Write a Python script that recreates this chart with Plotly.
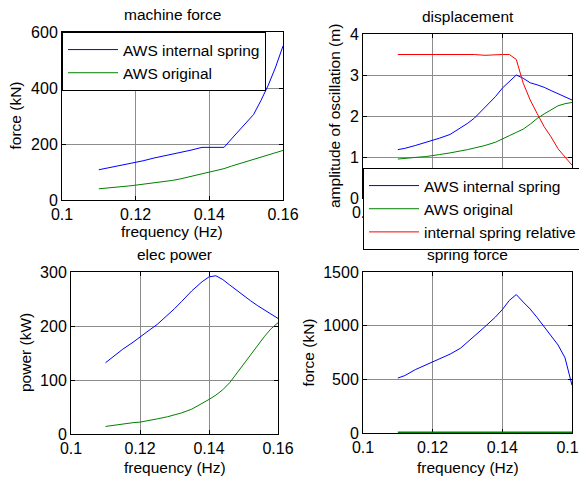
import plotly.graph_objects as go

freq = [0.110, 0.112, 0.115, 0.118, 0.120, 0.122, 0.125, 0.128, 0.130, 0.132, 0.135,
        0.138, 0.140, 0.142, 0.144, 0.146, 0.148, 0.150, 0.152, 0.154, 0.156, 0.158, 0.160]

machine_spring = [108, 113, 120, 129, 135, 140, 150, 158, 164, 171, 178,
                  188, 188, 188, 188, 218, 248, 275, 305, 355, 410, 475, 550]
machine_orig = [40, 42, 46, 50, 53, 56, 61, 66, 70, 75, 84,
                92, 100, 106, 112, 121, 129, 138, 146, 154, 162, 170, 177]

disp_spring = [1.18, 1.21, 1.28, 1.35, 1.41, 1.46, 1.55, 1.70, 1.82, 1.95, 2.21,
               2.47, 2.68, 2.84, 3.00, 2.92, 2.81, 2.76, 2.70, 2.62, 2.54, 2.46, 2.39]
disp_orig = [0.95, 0.97, 0.99, 1.01, 1.03, 1.06, 1.10, 1.14, 1.18, 1.22, 1.28,
             1.36, 1.45, 1.52, 1.60, 1.68, 1.80, 1.94, 2.05, 2.16, 2.25, 2.30, 2.33]
disp_relative = [3.50, 3.50, 3.50, 3.50, 3.50, 3.50, 3.50, 3.50, 3.50, 3.50, 3.48,
                 3.50, 3.50, 3.50, 3.38, 2.80, 2.39, 2.06, 1.74, 1.49, 1.20, 1.00, 0.80]

power_spring = [132, 142, 157, 170, 180, 189, 203, 220, 232, 245, 265,
                282, 291, 293, 286, 276, 266, 256, 247, 238, 230, 222, 214]
power_orig = [14, 16, 18, 21, 22, 24, 28, 32, 35, 39, 46,
              56, 64, 72, 82, 95, 112, 130, 148, 165, 180, 195, 206]

springf_spring = [512, 535, 590, 635, 667, 690, 735, 790, 845, 900, 990,
                  1080, 1150, 1235, 1290, 1220, 1155, 1075, 990, 910, 820, 700, 445]
springf_orig = [0] * len(freq)

x_ticks = [0.1, 0.12, 0.14, 0.16]
x_ticklabels = ["0.1", "0.12", "0.14", "0.16"]

titles = ["machine force", "displacement", "elec power", "spring force"]
ylabels = ["force (kN)", "amplitude of oscillation (m)", "power (kW)", "force (kN)"]
xlabel = "frequency (Hz)"

OFF = 8                      # page body margin
W, H = 587 - OFF, 479 - OFF  # figure size
BLUE, GREEN, RED = "rgb(0,0,255)", "rgb(0,128,0)", "rgb(255,0,0)"
FONT = "Liberation Sans, Arial, sans-serif"
FS = 15.5
FS_TICK = 16

def px(x):
    return (x - OFF) / W

def py(y):
    return 1 - (y - OFF) / H

# plot boxes in window pixels: (left, right, top, bottom)
boxes = [(62, 283, 32, 200), (363, 572, 34, 198), (71, 278, 272, 434), (363, 572, 272, 433)]

fig = go.Figure()

fig.add_trace(go.Scatter(x=freq, y=machine_spring, mode="lines", line=dict(color=BLUE, width=1),
                         name="AWS internal spring", xaxis="x", yaxis="y", legend="legend"))
fig.add_trace(go.Scatter(x=freq, y=machine_orig, mode="lines", line=dict(color=GREEN, width=1),
                         name="AWS original", xaxis="x", yaxis="y", legend="legend"))

fig.add_trace(go.Scatter(x=freq, y=disp_spring, mode="lines", line=dict(color=BLUE, width=1),
                         name="AWS internal spring", xaxis="x2", yaxis="y2", legend="legend2"))
fig.add_trace(go.Scatter(x=freq, y=disp_orig, mode="lines", line=dict(color=GREEN, width=1),
                         name="AWS original", xaxis="x2", yaxis="y2", legend="legend2"))
fig.add_trace(go.Scatter(x=freq, y=disp_relative, mode="lines", line=dict(color=RED, width=1),
                         name="internal spring relative", xaxis="x2", yaxis="y2", legend="legend2"))

fig.add_trace(go.Scatter(x=freq, y=power_spring, mode="lines", line=dict(color=BLUE, width=1),
                         showlegend=False, xaxis="x3", yaxis="y3"))
fig.add_trace(go.Scatter(x=freq, y=power_orig, mode="lines", line=dict(color=GREEN, width=1),
                         showlegend=False, xaxis="x3", yaxis="y3"))

fig.add_trace(go.Scatter(x=freq, y=springf_spring, mode="lines", line=dict(color=BLUE, width=1),
                         showlegend=False, xaxis="x4", yaxis="y4"))
fig.add_trace(go.Scatter(x=freq, y=springf_orig, mode="lines", line=dict(color=GREEN, width=3),
                         showlegend=False, xaxis="x4", yaxis="y4"))

yranges = [[0, 600], [0, 4], [0, 300], [0, 1500]]
ydticks = [200, 1, 100, 500]

axis_common = dict(showline=True, linecolor="black", linewidth=1, mirror="ticks",
                   ticks="inside", ticklen=4, tickcolor="black", automargin=False,
                   ticklabeloverflow="allow",
                   showgrid=True, gridcolor="#8c8c8c", gridwidth=1, zeroline=False,
                   tickfont=dict(family=FONT, size=FS_TICK, color="black"))

layout = dict(width=W, height=H, margin=dict(l=0, r=0, t=0, b=0, autoexpand=False),
              paper_bgcolor="white", plot_bgcolor="white",
              font=dict(family=FONT, size=FS, color="black"))

title_y = [15, 17, 254, 254]
ylab_x = [15.5, 335, 25, 308]
xlab_y = [231, None, 467, 467]   # x title of the displacement panel lies under its legend

annotations = []
for i, (l, r, t, b) in enumerate(boxes):
    sfx = "" if i == 0 else str(i + 1)
    layout["xaxis" + sfx] = dict(axis_common, domain=[px(l), px(r)], range=[0.1, 0.16],
                                 tickvals=x_ticks, ticktext=x_ticklabels, anchor="y" + sfx,
                                 layer="below traces" if i == 3 else "above traces")
    layout["yaxis" + sfx] = dict(axis_common, domain=[py(b), py(t)], range=yranges[i],
                                 dtick=ydticks[i], tick0=0, anchor="x" + sfx)
    cx = (l + r) / 2
    annotations.append(dict(text=titles[i], x=px(cx), y=py(title_y[i]), xref="paper", yref="paper",
                            showarrow=False, xanchor="center", yanchor="middle",
                            font=dict(family=FONT, size=FS)))
    annotations.append(dict(text=ylabels[i], x=px(ylab_x[i]), y=py((t + b) / 2), xref="paper",
                            yref="paper", showarrow=False, textangle=-90, xanchor="center",
                            yanchor="middle", font=dict(family=FONT, size=FS)))
    if xlab_y[i] is not None:
        annotations.append(dict(text=xlabel, x=px(cx), y=py(xlab_y[i]), xref="paper",
                                yref="paper", showarrow=False, xanchor="center",
                                yanchor="middle", font=dict(family=FONT, size=FS)))

layout["annotations"] = annotations
layout["legend"] = dict(x=px(62), y=py(32), xanchor="left", yanchor="top",
                        bgcolor="white", bordercolor="black", borderwidth=1, itemwidth=50,
                        font=dict(family=FONT, size=FS), tracegroupgap=0)
layout["legend2"] = dict(x=px(363), y=py(168), xanchor="left", yanchor="top",
                         bgcolor="white", bordercolor="black", borderwidth=1, itemwidth=50,
                         font=dict(family=FONT, size=FS), tracegroupgap=0)

fig.update_layout(**layout)
fig.write_html("out.html")
